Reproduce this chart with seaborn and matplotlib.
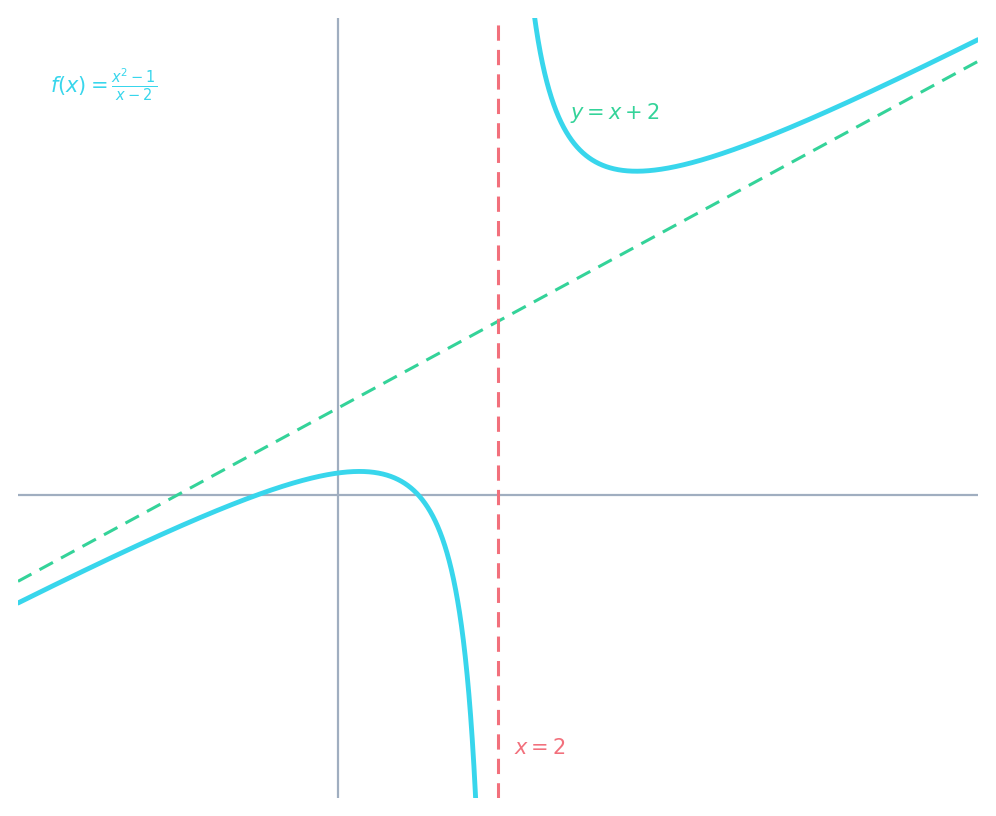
import numpy as np
import matplotlib
matplotlib.use("Agg")
import matplotlib.pyplot as plt
import seaborn as sns
import pandas as pd

x_range = [-4, 8]
y_range = [-7, 11]
asymptote_x = 2
slant_slope, slant_intercept = 1, 2

sns.set_style("white")
fig = plt.figure(figsize=(9.96, 8.16), dpi=100)
ax = fig.add_axes([18/996, 18/816, 960/996, 780/816])

cyan, green, red, grey = "#38d6ec", "#34d399", "#f2707c", "#a0aec0"

ax.axhline(0, color=grey, lw=1.6, zorder=1)
ax.axvline(0, color=grey, lw=1.6, zorder=1)

for lo, hi in [(x_range[0], asymptote_x - 1e-3), (asymptote_x + 1e-3, x_range[1])]:
    xs = np.linspace(lo, hi, 2000)
    ys = (xs**2 - 1) / (xs - 2)
    m = (ys > y_range[0] - 5) & (ys < y_range[1] + 5)
    sns.lineplot(data=pd.DataFrame({"x": xs[m], "y": ys[m]}), x="x", y="y",
                 ax=ax, color=cyan, lw=3.5, sort=False, zorder=3)

xl = np.array(x_range, dtype=float)
sns.lineplot(x=xl, y=slant_slope * xl + slant_intercept, ax=ax, color=green,
             lw=2.2, linestyle=(0, (5, 3)), zorder=2)
ax.axvline(asymptote_x, color=red, lw=2.2, linestyle=(0, (5, 3)), zorder=2)

ax.text(-3.6, 9.45, r"$f(x) = \frac{x^2-1}{x-2}$", color=cyan, fontsize=15, va="center")
ax.text(2.9, 8.8, r"$y = x + 2$", color=green, fontsize=15, va="center")
ax.text(2.2, -5.85, r"$x = 2$", color=red, fontsize=15, va="center")

ax.set_xlim(*x_range)
ax.set_ylim(*y_range)
ax.set_xlabel(""); ax.set_ylabel("")
ax.set_xticks([]); ax.set_yticks([])
for s in ax.spines.values():
    s.set_visible(False)
fig.savefig("out.png", dpi=100)
